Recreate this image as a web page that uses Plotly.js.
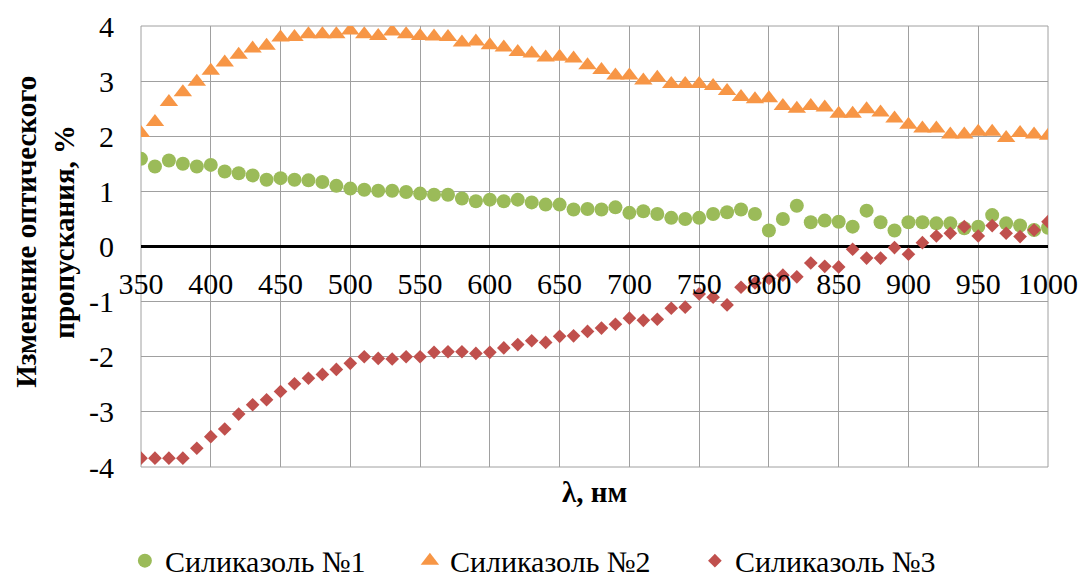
<!DOCTYPE html>
<html>
<head>
<meta charset="utf-8">
<script src="https://cdn.plot.ly/plotly-3.0.1.min.js"></script>
<style>html,body{margin:0;padding:0;background:#fff;}#chart{width:1081px;height:578px;}</style>
</head>
<body>
<div id="chart"></div>
<script>
const wavelength = [350,360,370,380,390,400,410,420,430,440,450,460,470,480,490,500,510,520,530,540,550,560,570,580,590,600,610,620,630,640,650,660,670,680,690,700,710,720,730,740,750,760,770,780,790,800,810,820,830,840,850,860,870,880,890,900,910,920,930,940,950,960,970,980,990,1000];

const silicasol1 = [1.59,1.45,1.56,1.50,1.45,1.48,1.36,1.33,1.29,1.21,1.24,1.21,1.20,1.17,1.10,1.05,1.03,1.01,1.01,0.99,0.96,0.94,0.94,0.87,0.82,0.85,0.82,0.85,0.80,0.76,0.76,0.67,0.68,0.67,0.71,0.61,0.64,0.59,0.52,0.50,0.52,0.59,0.62,0.67,0.59,0.29,0.50,0.74,0.44,0.47,0.45,0.36,0.65,0.44,0.29,0.44,0.44,0.42,0.42,0.33,0.36,0.57,0.42,0.38,0.30,0.34];

const silicasol2 = [2.06,2.26,2.62,2.80,2.99,3.19,3.34,3.48,3.59,3.64,3.79,3.80,3.85,3.85,3.85,3.92,3.85,3.82,3.90,3.85,3.82,3.81,3.80,3.70,3.72,3.65,3.61,3.53,3.50,3.43,3.44,3.41,3.29,3.20,3.10,3.10,3.01,3.06,2.95,2.95,2.95,2.91,2.82,2.71,2.67,2.69,2.55,2.50,2.55,2.52,2.41,2.41,2.49,2.43,2.32,2.21,2.14,2.14,2.03,2.03,2.08,2.08,1.97,2.06,2.03,2.01];

const silicasol3 = [-3.84,-3.84,-3.84,-3.84,-3.66,-3.45,-3.31,-3.04,-2.87,-2.78,-2.63,-2.49,-2.39,-2.32,-2.23,-2.12,-2.00,-2.03,-2.04,-2.00,-2.00,-1.92,-1.91,-1.91,-1.94,-1.92,-1.84,-1.78,-1.71,-1.74,-1.63,-1.62,-1.54,-1.48,-1.41,-1.30,-1.34,-1.32,-1.12,-1.10,-0.86,-0.92,-1.06,-0.74,-0.66,-0.58,-0.52,-0.55,-0.30,-0.36,-0.37,-0.05,-0.21,-0.21,-0.02,-0.14,0.07,0.19,0.24,0.36,0.19,0.38,0.24,0.18,0.30,0.45];

const seriesNames = ['Силиказоль №1','Силиказоль №2','Силиказоль №3'];
const xTickValues = [350,400,450,500,550,600,650,700,750,800,850,900,950,1000];
const xTickLabels = ['350','400','450','500','550','600','650','700','750','800','850','900','950','1000'];
const yTickValues = [-4,-3,-2,-1,0,1,2,3,4];
const yTickLabels = ['-4','-3','-2','-1','0','1','2','3','4'];
const yTitle = 'Изменение оптического<br>пропускания, %';
const xTitle = 'λ, нм';

const FONT = 'Liberation Serif, DejaVu Serif, serif';
const GRID = '#a0a0a0';

const traces = [
  {x: wavelength, y: silicasol1, name: seriesNames[0], type: 'scatter', mode: 'markers',
   marker: {symbol: 'circle', size: 14, color: '#9BBB59'}},
  {x: wavelength, y: silicasol2, name: seriesNames[1], type: 'scatter', mode: 'markers',
   marker: {symbol: 'triangle-up', size: 16, color: '#F79646'}},
  {x: wavelength, y: silicasol3, name: seriesNames[2], type: 'scatter', mode: 'markers',
   marker: {symbol: 'diamond', size: 10.5, color: '#C0504D'}}
];

const layout = {
  width: 1081, height: 578,
  margin: {l: 141, r: 33, t: 26, b: 111},
  paper_bgcolor: '#ffffff', plot_bgcolor: '#ffffff',
  font: {family: FONT, size: 30, color: '#000'},
  showlegend: true,
  xaxis: {
    range: [350, 1000], tickmode: 'array', tickvals: xTickValues, ticktext: xTickLabels,
    anchor: 'free', position: 0.5,
    showgrid: true, gridcolor: GRID, gridwidth: 1,
    zeroline: false, showline: false, ticks: '',
    ticklabelstandoff: 16,
    tickfont: {family: FONT, size: 30, color: '#000'}
  },
  yaxis: {
    range: [-4, 4], tickmode: 'array', tickvals: yTickValues, ticktext: yTickLabels,
    showgrid: true, gridcolor: GRID, gridwidth: 1,
    zeroline: true, zerolinecolor: '#000', zerolinewidth: 3.5,
    showline: false, ticks: '',
    ticklabelstandoff: 26,
    tickfont: {family: FONT, size: 30, color: '#000'}
  },
  shapes: [
    {type: 'rect', xref: 'paper', yref: 'paper', x0: 0, x1: 1, y0: 0, y1: 1,
     line: {color: GRID, width: 1}, fillcolor: 'rgba(0,0,0,0)', layer: 'below'}
  ],
  annotations: [
    {text: '<b>' + yTitle + '</b>', xref: 'paper', yref: 'paper', x: -0.106, y: 0.533,
     xanchor: 'center', yanchor: 'middle', textangle: -90, showarrow: false,
     font: {family: FONT, size: 29, color: '#000'}},
    {text: '<b>' + xTitle + '</b>', xref: 'paper', yref: 'paper', x: 0.5, y: -0.057,
     xanchor: 'center', yanchor: 'middle', showarrow: false,
     font: {family: FONT, size: 29, color: '#000'}}
  ],
  legend: {
    orientation: 'h', xref: 'container', yref: 'container',
    x: 0.511, xanchor: 'center', y: 0.03, yanchor: 'middle',
    entrywidth: 240, entrywidthmode: 'pixels',
    font: {family: FONT, size: 30, color: '#000'},
    bgcolor: 'rgba(0,0,0,0)'
  }
};

Plotly.newPlot('chart', traces, layout, {displayModeBar: false, staticPlot: true});
</script>
</body>
</html>
